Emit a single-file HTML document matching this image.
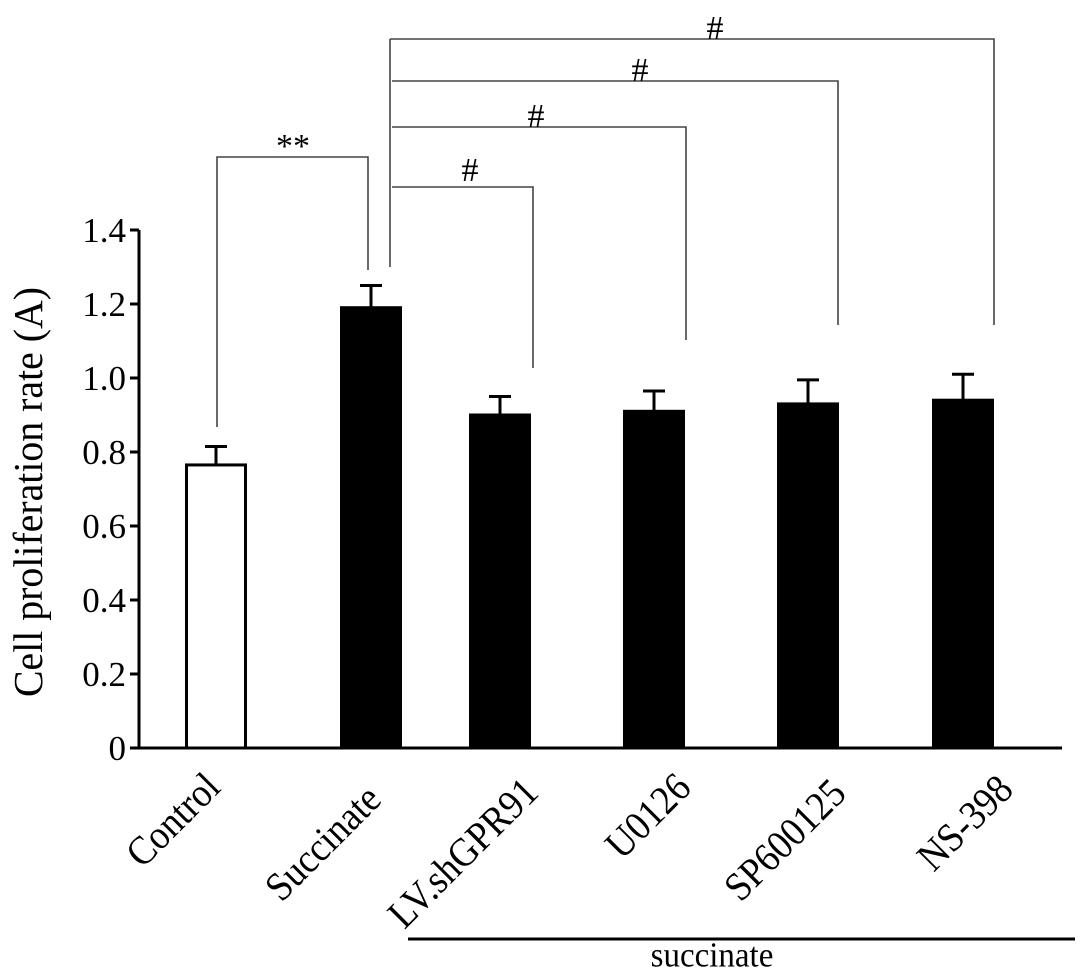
<!DOCTYPE html>
<html><head><meta charset="utf-8"><style>
body{margin:0;background:#fff}
svg{display:block;font-family:"Liberation Serif",serif}
</style></head><body>
<svg id="chart" width="1087" height="976" viewBox="0 0 1087 976" xmlns="http://www.w3.org/2000/svg">
<g id="axes"></g>
<g id="bars"></g>
<g id="sig"></g>
<text transform="translate(42,492) rotate(-90) scale(1,1.15)" text-anchor="middle" font-size="36" textLength="410" lengthAdjust="spacingAndGlyphs">Cell proliferation rate (A)</text>
<line x1="408" y1="939" x2="1075" y2="939" stroke="#000" stroke-width="3"/>
<text x="712" y="968" text-anchor="middle" font-size="33" transform="translate(0,-50) scale(1,1.05)">succinate</text>
</svg>
<script>
const categories=["Control","Succinate","LV.shGPR91","U0126","SP600125","NS-398"];
const values=[0.765,1.19,0.90,0.91,0.93,0.94];
const errors=[0.05,0.06,0.05,0.055,0.065,0.07];
const yTicks=[0,0.2,0.4,0.6,0.8,1.0,1.2,1.4];
const yTickLabels=["0","0.2","0.4","0.6","0.8","1.0","1.2","1.4"];
const NS="http://www.w3.org/2000/svg";
const centers=[216,371,500,654,808,963];
const labelCenters=[[173,820],[323,843],[463,853],[648,816],[785,840],[965,823]];
const barW=62;
function y(v){return 748-v*370;}
function mk(tag,attrs,parent){const e=document.createElementNS(NS,tag);for(const k in attrs)e.setAttribute(k,attrs[k]);parent.appendChild(e);return e;}
const axes=document.getElementById('axes');
let a=mk('line',{x1:139,y1:y(1.4),x2:139,y2:749,stroke:'#000','stroke-width':3},axes);


a=mk('line',{x1:138,y1:748,x2:1062,y2:748,stroke:'#000','stroke-width':3},axes);


yTicks.forEach((t,i)=>{
 const l=mk('line',{x1:130,y1:y(t),x2:139,y2:y(t),stroke:'#000','stroke-width':3},axes);
 
 
 const tx=mk('text',{x:126,y:y(t)+12,'text-anchor':'end','font-size':35},axes);
 tx.textContent=yTickLabels[i];
 
 
});
const bars=document.getElementById('bars');
categories.forEach((c,i)=>{
 const cx=centers[i],top=y(values[i]);
 const r=mk('rect',{x:cx-barW/2+1.5,y:top,width:barW-3,height:748-top,fill:i===0?'#fff':'#000',stroke:'#000','stroke-width':3},bars);
 
 
 const et=y(values[i]+errors[i]);
 const e1=mk('line',{x1:cx,y1:top,x2:cx,y2:et,stroke:'#000','stroke-width':3},bars);
 
 
 const e2=mk('line',{x1:cx-11,y1:et,x2:cx+11,y2:et,stroke:'#000','stroke-width':3},bars);
 
 
 const [lx,ly]=labelCenters[i];
 const t=mk('text',{transform:`translate(${lx},${ly}) rotate(-45) scale(1,1.1)`,'text-anchor':'middle',y:12,'font-size':37},bars);
 t.textContent=c;
 
 
});
const sig=document.getElementById('sig');
function path(d,name){const p=mk('path',{d:d,fill:'none',stroke:'#444','stroke-width':1.6},sig);}
function txt(x,yy,s,name){const t=mk('text',{x:x,y:yy,'text-anchor':'middle','font-size':34},sig);t.textContent=s;}
path('M217,427 V157 H368 V270','bracket-control-succinate');
txt(293,157,'**','significance-stars');
path('M390,267 V39','bracket-hub');
path('M390,39 H994 V325','bracket-ns398');
path('M392,81 H838 V325','bracket-sp600125');
path('M392,127 H686 V340','bracket-u0126');
path('M392,187 H533 V368','bracket-lvshgpr91');
txt(715,39,'#','hash-ns398');
txt(640,81,'#','hash-sp600125');
txt(536,127,'#','hash-u0126');
txt(470,181,'#','hash-lvshgpr91');
</script>
</body></html>
